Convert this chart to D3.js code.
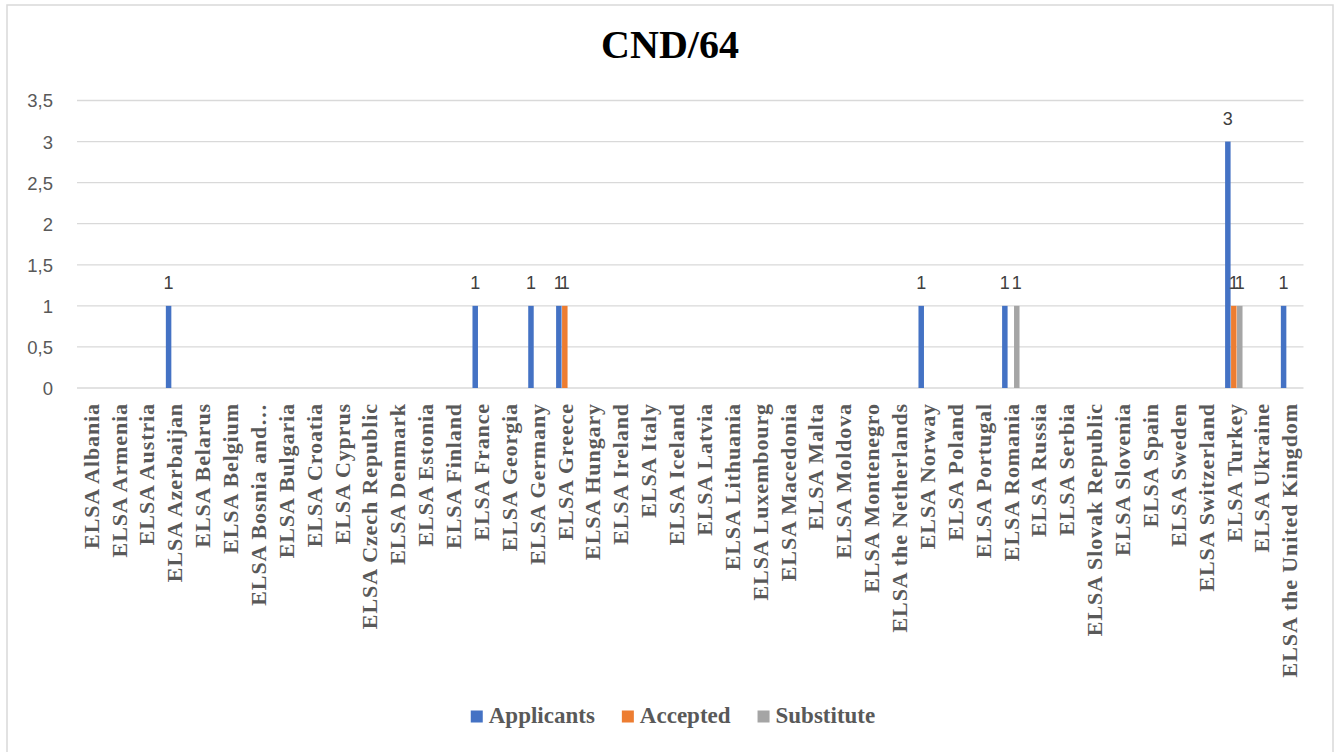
<!DOCTYPE html>
<html>
<head>
<meta charset="utf-8">
<script src="https://cdn.jsdelivr.net/npm/d3@7"></script>
<style>
  html, body { margin: 0; padding: 0; background: #fff; }
  svg { display: block; }
</style>
</head>
<body>
<svg id="chart" width="1338" height="752"></svg>
<script>
const title = "CND/64";
const categories = [
  "ELSA Albania","ELSA Armenia","ELSA Austria","ELSA Azerbaijan","ELSA Belarus","ELSA Belgium",
  "ELSA Bosnia and…","ELSA Bulgaria","ELSA Croatia","ELSA Cyprus","ELSA Czech Republic","ELSA Denmark",
  "ELSA Estonia","ELSA Finland","ELSA France","ELSA Georgia","ELSA Germany","ELSA Greece",
  "ELSA Hungary","ELSA Ireland","ELSA Italy","ELSA Iceland","ELSA Latvia","ELSA Lithuania",
  "ELSA Luxembourg","ELSA Macedonia","ELSA Malta","ELSA Moldova","ELSA Montenegro","ELSA the Netherlands",
  "ELSA Norway","ELSA Poland","ELSA Portugal","ELSA Romania","ELSA Russia","ELSA Serbia",
  "ELSA Slovak Republic","ELSA Slovenia","ELSA Spain","ELSA Sweden","ELSA Switzerland","ELSA Turkey",
  "ELSA Ukraine","ELSA the United Kingdom"
];
const seriesNames = ["Applicants", "Accepted", "Substitute"];
const seriesColors = ["#4472C4", "#ED7D31", "#A5A5A5"];
// null = empty cell (no bar, no label)
const applicants = [null,null,null,1,null,null,null,null,null,null,null,null,null,null,1,null,1,1,
  null,null,null,null,null,null,null,null,null,null,null,null,1,null,null,1,null,null,null,null,null,null,null,3,null,1];
const accepted = [null,null,null,null,null,null,null,null,null,null,null,null,null,null,null,null,null,1,
  null,null,null,null,null,null,null,null,null,null,null,null,null,null,null,null,null,null,null,null,null,null,null,1,null,null];
const substitute = [null,null,null,null,null,null,null,null,null,null,null,null,null,null,null,null,null,null,
  null,null,null,null,null,null,null,null,null,null,null,null,null,null,null,1,null,null,null,null,null,null,null,1,null,null];
const yTicks = [0, 0.5, 1, 1.5, 2, 2.5, 3, 3.5];

(function () {
const seriesValues = [applicants, accepted, substitute];
const svg = d3.select("#chart");

// outer chart border
svg.append("rect").attr("x", 7).attr("y", 5).attr("width", 1326).attr("height", 760)
  .attr("fill", "#fff").attr("stroke", "#d9d9d9").attr("stroke-width", 1.5);

const plotLeft = 77, plotRight = 1303.5, plotTop = 100.5, plotBottom = 388;

const x = d3.scaleBand().domain(categories).range([plotLeft, plotRight]).paddingInner(0.375).paddingOuter(0.1875);
const x1 = d3.scaleBand().domain(seriesNames).range([0, x.bandwidth()]).paddingInner(0.08);
const y = d3.scaleLinear().domain([0, 3.5]).range([plotBottom, plotTop]);

const locale = d3.formatLocale({decimal: ",", thousands: ".", grouping: [3], currency: ["", "€"]});
const fmt = locale.format("~g");

// gridlines
svg.append("g").selectAll("line").data(yTicks).join("line")
  .attr("x1", plotLeft).attr("x2", plotRight)
  .attr("y1", d => y(d)).attr("y2", d => y(d))
  .attr("stroke", "#d9d9d9").attr("stroke-width", 1.3);

// y axis labels
const yAxis = d3.axisLeft(y).tickValues(yTicks).tickFormat(fmt).tickSize(0).tickPadding(0);
const yg = svg.append("g").attr("transform", `translate(53,0)`).call(yAxis);
yg.select(".domain").remove();
yg.selectAll("text").attr("font-family", "'Liberation Sans', Arial, sans-serif")
  .attr("font-size", 18.5).attr("fill", "#595959").attr("dy", "0.35em");

// x axis labels
const xAxis = d3.axisBottom(x).tickSize(0).tickPadding(0);
const xg = svg.append("g").attr("transform", `translate(0,${plotBottom})`).call(xAxis);
xg.select(".domain").remove();
xg.selectAll("text")
  .attr("font-family", "'Liberation Serif', 'Times New Roman', serif")
  .attr("font-weight", "bold").attr("font-size", 22).attr("letter-spacing", "0.9px")
  .attr("fill", "#595959")
  .attr("text-anchor", "end")
  .attr("transform", "translate(0,15) rotate(-90)")
  .attr("x", 0).attr("y", 0).attr("dy", "0.35em");

// bars
const barData = [];
categories.forEach((c, i) => {
  seriesNames.forEach((s, j) => {
    const v = seriesValues[j][i];
    if (v !== null && v !== undefined) barData.push({c, s, v, color: seriesColors[j]});
  });
});
svg.append("g").selectAll("rect").data(barData).join("rect")
  .attr("x", d => x(d.c) + x1(d.s))
  .attr("width", x1.bandwidth())
  .attr("y", d => y(d.v))
  .attr("height", d => y(0) - y(d.v))
  .attr("fill", d => d.color);

// data labels (they overlap in the original too, where bars sit side by side)
svg.append("g").selectAll("text").data(barData).join("text")
  .attr("x", d => x(d.c) + x1(d.s) + x1.bandwidth() / 2)
  .attr("y", d => y(d.v) - 17)
  .attr("text-anchor", "middle")
  .attr("font-family", "'Liberation Sans', Arial, sans-serif")
  .attr("font-size", 18).attr("fill", "#404040")
  .text(d => fmt(d.v));

// title
svg.append("text").attr("x", 670).attr("y", 58).attr("text-anchor", "middle")
  .attr("font-family", "'Liberation Serif', 'Times New Roman', serif")
  .attr("font-weight", "bold").attr("font-size", 40).attr("fill", "#000")
  .text(title);

// legend
const lg = svg.append("g");
let cursor = 0;
seriesNames.forEach((s, j) => {
  const g = lg.append("g");
  g.append("rect").attr("x", 0).attr("y", -12.5).attr("width", 12).attr("height", 12).attr("fill", seriesColors[j]);
  const t = g.append("text").attr("x", 18).attr("y", 0)
    .attr("font-family", "'Liberation Serif', 'Times New Roman', serif")
    .attr("font-weight", "bold").attr("font-size", 23).attr("fill", "#595959").text(s);
  const w = 18 + t.node().getComputedTextLength();
  g.attr("transform", `translate(${cursor},0)`);
  cursor += w + 27;
});
const totalW = cursor - 27;
lg.attr("transform", `translate(${673 - totalW / 2},723)`);
})();
</script>
</body>
</html>
